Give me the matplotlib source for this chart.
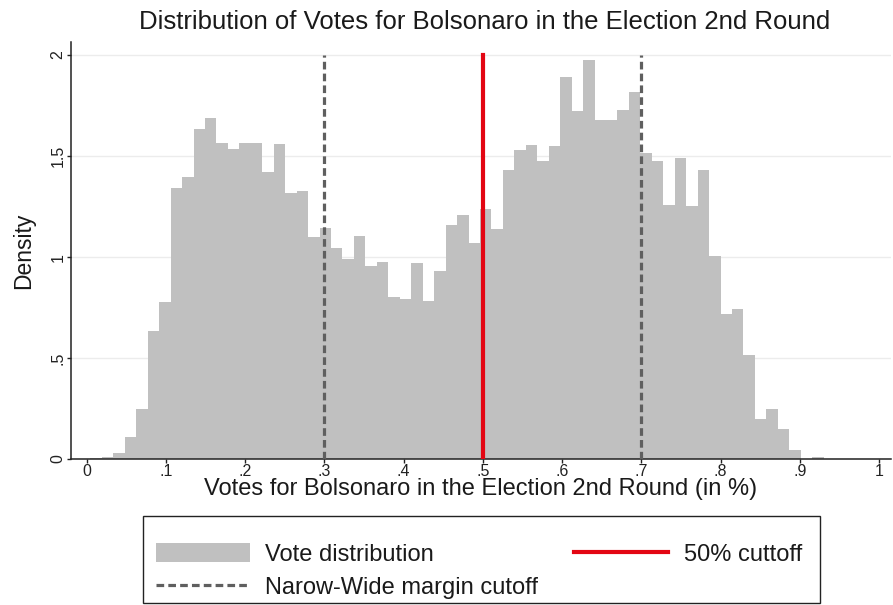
import numpy as np
import matplotlib
matplotlib.use("Agg")
import matplotlib.pyplot as plt
from matplotlib.lines import Line2D
from matplotlib.patches import Patch, Rectangle

plt.rcParams['font.family'] = ['Liberation Sans', 'DejaVu Sans']

# Histogram of municipal vote shares (density scale), equal-width bins
bin_start = 0.0047
bin_width = 0.01446
density = [0.004, 0.008, 0.03, 0.11, 0.248, 0.633, 0.777, 1.342, 1.397, 1.632,
           1.69, 1.566, 1.533, 1.565, 1.565, 1.42, 1.56, 1.317, 1.327, 1.10,
           1.144, 1.045, 0.992, 1.103, 0.956, 0.978, 0.803, 0.792, 0.970, 0.782,
           0.932, 1.157, 1.21, 1.072, 1.24, 1.141, 1.43, 1.529, 1.554, 1.476,
           1.549, 1.893, 1.723, 1.976, 1.678, 1.678, 1.727, 1.818, 1.516, 1.476,
           1.256, 1.493, 1.254, 1.43, 1.003, 0.72, 0.745, 0.514, 0.196, 0.246,
           0.15, 0.045, 0.0, 0.009]

cutoff_main = 0.5
cutoff_margin = [0.3, 0.7]
line_top = 2.0

x_ticks = [0, .1, .2, .3, .4, .5, .6, .7, .8, .9, 1]
x_tick_labels = ["0", ".1", ".2", ".3", ".4", ".5", ".6", ".7", ".8", ".9", "1"]
y_ticks = [0, .5, 1, 1.5, 2]
y_tick_labels = ["0", ".5", "1", "1.5", "2"]

BAR = '#c0c0c0'
DASH = '#5f5f5f'
RED = '#e30613'
TXT = '#1a1a1a'

fig = plt.figure(figsize=(8.93, 6.05), dpi=100)
ax = fig.add_axes([0.0795, 0.2413, 0.918, 0.6893])

lefts = bin_start + bin_width * np.arange(len(density))
ax.bar(lefts, density, width=bin_width, align='edge', color=BAR,
       edgecolor='none', linewidth=0, zorder=2)

for xc in cutoff_margin:
    ax.plot([xc, xc], [0, line_top], color=DASH, linewidth=2.3,
            dashes=(2.4, 1.3), zorder=3)
ax.plot([cutoff_main, cutoff_main], [0, line_top], color=RED,
        linewidth=3.0, zorder=4)

ax.set_xlim(-0.0198, 1.0148)
ax.set_ylim(0, 2.065)

ax.set_xticks(x_ticks)
ax.set_xticklabels(x_tick_labels)
ax.set_yticks(y_ticks)
ax.set_yticklabels(y_tick_labels, rotation=90, va='center')
ax.tick_params(axis='both', direction='out', length=3, width=1, labelsize=11.5,
               colors='#222222', pad=0.8)
ax.grid(axis='y', color='#ececec', linewidth=1, zorder=0)
ax.set_axisbelow(True)

for side in ['top', 'right']:
    ax.spines[side].set_visible(False)
for side in ['left', 'bottom']:
    ax.spines[side].set_linewidth(1.1)
    ax.spines[side].set_color('#222222')

ax.set_xlabel("Votes for Bolsonaro in the Election 2nd Round (in %)",
              fontsize=17, color=TXT, labelpad=-1.0)
ax.set_ylabel("Density", fontsize=16.5, color=TXT, labelpad=11)
fig.text(0.543, 0.9636, "Distribution of Votes for Bolsonaro in the Election 2nd Round",
         ha='center', va='center', fontsize=18.5, color=TXT)

# Legend below the plot, framed by a box with extra room on top
fig.add_artist(Rectangle((0.1601, 0.0033), 0.758, 0.1438, transform=fig.transFigure,
                         facecolor='white', edgecolor='#222222', linewidth=1.0,
                         zorder=1))
handles = [
    Patch(facecolor=BAR, edgecolor='none', label='Vote distribution'),
    Line2D([0], [0], color=DASH, linewidth=2.3, dashes=(2.4, 1.3),
           label='Narow-Wide margin cutoff'),
    Line2D([0], [0], color=RED, linewidth=3.0, label='50% cuttoff'),
]
leg = fig.legend(handles=handles, loc='center', ncol=2,
                 bbox_to_anchor=(0.536, 0.0562), bbox_transform=fig.transFigure,
                 fontsize=17, frameon=False,
                 handlelength=4.0, handleheight=0.9, handletextpad=0.65,
                 columnspacing=1.5, borderpad=0.0, labelspacing=0.45)
leg.set_zorder(2)
for t in leg.get_texts():
    t.set_color(TXT)

fig.savefig("out.png", dpi=100, facecolor='white')
